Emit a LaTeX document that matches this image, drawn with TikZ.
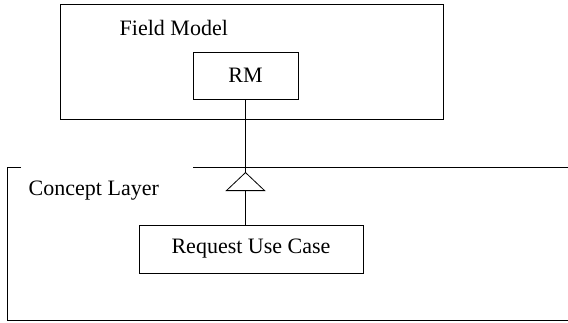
\documentclass[tikz,border=0pt]{standalone}
\usepackage{fontspec}
\setmainfont{Liberation Serif}
\usetikzlibrary{positioning,arrows.meta}

\begin{document}
\begin{tikzpicture}
[x=1pt, y=-1pt, line width=0.8pt, font=\fontsize{22}{26}\selectfont,
box/.style={draw, inner sep=0pt}]

\useasboundingbox (0,0) rectangle (568,322);

\node [box, minimum width=383pt, minimum height=115pt] (field) at (251.5,61.5) {};
\node [right] (field_label) at (116,28) {Field Model};
\node [box, minimum width=105pt, minimum height=47pt] (rm) at (245.5,75.5) {RM};

% concept layer, open at the top
\draw (21,167) -- (7,167) -- (7,320) -- (568,320);
\draw (193,167) -- (568,167);
\node [right] (layer_label) at (25,191) {Concept Layer};

\node [box, minimum width=224pt, minimum height=48pt] (request) at (251,249) {Request Use Case};

\coordinate (tip) at (rm.south |- 0,172);

\draw (rm) -- (tip);
\draw [-{Triangle[open, length=19pt, width=40pt]}] (tip |- request.north) -- (tip);

\end{tikzpicture}
\end{document}
